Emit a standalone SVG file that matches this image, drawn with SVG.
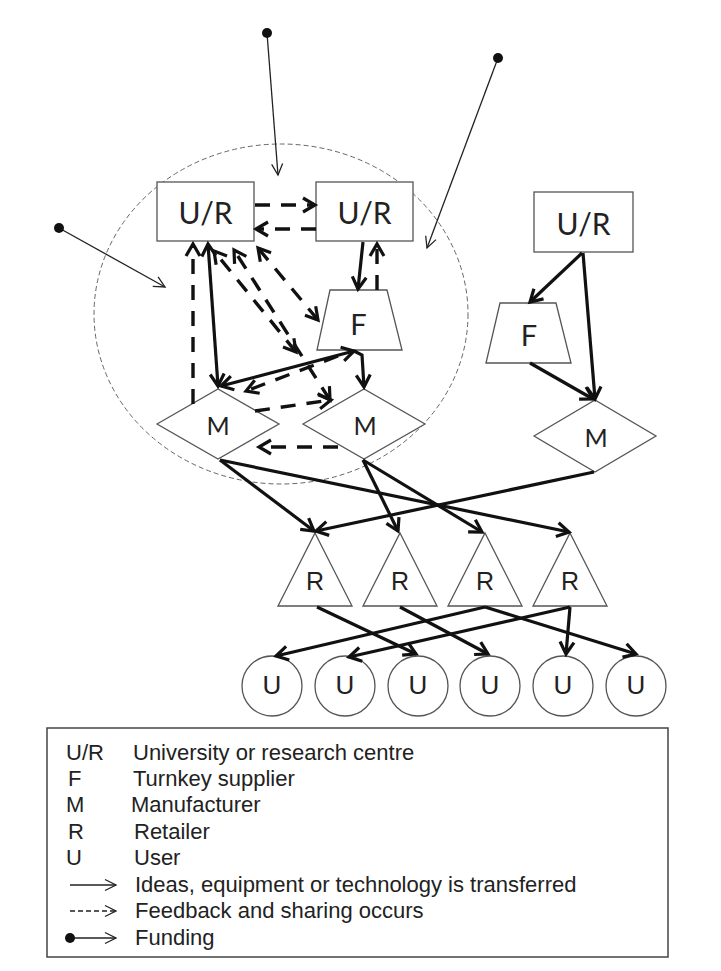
<svg xmlns="http://www.w3.org/2000/svg" width="721" height="971" viewBox="0 0 721 971">
  <style>
    .node { fill: #fff; stroke: #555; stroke-width: 1.3; }
    .lbl { font-family: Lato, "Open Sans", sans-serif; fill: #222; text-anchor: middle; dominant-baseline: central; }
    .lblA { font-family: "Liberation Sans", Arial, sans-serif; fill: #222; text-anchor: middle; dominant-baseline: central; }
    .s { fill: none; stroke: #111; stroke-width: 3.2; }
    .d { fill: none; stroke: #111; stroke-width: 3.4; stroke-dasharray: 15 11; }
    .thin { fill: none; stroke: #222; stroke-width: 1.3; }
    .ah { fill: none; stroke: #111; stroke-width: 3.2; stroke-linejoin: miter; }
    .ahThin { fill: none; stroke: #222; stroke-width: 1.3; }
    .legend { font-family: "Liberation Sans", Arial, sans-serif; font-size: 22px; fill: #222; }
  </style>
  <defs>
    <marker id="arr" viewBox="-16 -10 20 20" refX="0" refY="0" markerWidth="20" markerHeight="20" markerUnits="userSpaceOnUse" orient="auto-start-reverse">
      <path d="M-12,-7 L0,0 L-12,7" class="ah"/>
    </marker>
    <marker id="arrThin" viewBox="-14 -8 16 16" refX="0" refY="0" markerWidth="16" markerHeight="16" markerUnits="userSpaceOnUse" orient="auto">
      <path d="M-11,-5.5 L0,0 L-11,5.5" class="ahThin"/>
    </marker>
    <marker id="dot" viewBox="-6 -6 12 12" refX="0" refY="0" markerWidth="12" markerHeight="12" markerUnits="userSpaceOnUse">
      <circle r="5" fill="#111"/>
    </marker>
  </defs>

  <!-- collaboration cluster boundary -->
  <ellipse id="cluster" cx="281" cy="314" rx="187" ry="170" fill="none" stroke="#666" stroke-width="1" stroke-dasharray="5 3"/>

  <!-- nodes -->
  <g id="ur1"><rect class="node" x="157" y="182" width="97" height="59"/><text class="lbl" x="205.5" y="212" font-size="30">U/R</text></g>
  <g id="ur2"><rect class="node" x="316" y="182" width="97" height="59"/><text class="lbl" x="364.5" y="212" font-size="30">U/R</text></g>
  <g id="ur3"><rect class="node" x="534" y="192" width="99" height="60"/><text class="lbl" x="583.5" y="223" font-size="30">U/R</text></g>

  <g id="f1"><polygon class="node" points="330,290 387,290 402,350 317,350"/><text class="lbl" x="358.5" y="323" font-size="29">F</text></g>
  <g id="f2"><polygon class="node" points="500,303 556,303 571,363 486,363"/><text class="lbl" x="529" y="334" font-size="29">F</text></g>

  <g id="m1"><polygon class="node" points="157,424 218,389 279,424 218,459"/><text class="lbl" x="218" y="425" font-size="25">M</text></g>
  <g id="m2"><polygon class="node" points="303,424 364,389 425,424 364,459"/><text class="lbl" x="365" y="425" font-size="25">M</text></g>
  <g id="m3"><polygon class="node" points="534,436 595,400 656,436 595,472"/><text class="lbl" x="596" y="437" font-size="25">M</text></g>

  <g id="r1"><polygon class="node" points="315,533 352,606 278,606"/><text class="lblA" x="315" y="581" font-size="25">R</text></g>
  <g id="r2"><polygon class="node" points="400,533 437,606 363,606"/><text class="lblA" x="400" y="581" font-size="25">R</text></g>
  <g id="r3"><polygon class="node" points="485,533 522,606 448,606"/><text class="lblA" x="485" y="581" font-size="25">R</text></g>
  <g id="r4"><polygon class="node" points="570,533 607,606 533,606"/><text class="lblA" x="570" y="581" font-size="25">R</text></g>

  <g id="u1"><circle class="node" cx="272" cy="686" r="30"/><text class="lblA" x="272" y="685" font-size="26">U</text></g>
  <g id="u2"><circle class="node" cx="345" cy="686" r="30"/><text class="lblA" x="345" y="685" font-size="26">U</text></g>
  <g id="u3"><circle class="node" cx="418" cy="686" r="30"/><text class="lblA" x="418" y="685" font-size="26">U</text></g>
  <g id="u4"><circle class="node" cx="490" cy="686" r="30"/><text class="lblA" x="490" y="685" font-size="26">U</text></g>
  <g id="u5"><circle class="node" cx="563" cy="686" r="30"/><text class="lblA" x="563" y="685" font-size="26">U</text></g>
  <g id="u6"><circle class="node" cx="636" cy="686" r="30"/><text class="lblA" x="636" y="685" font-size="26">U</text></g>

  <!-- connectors -->
  <g id="connectors">
    <!-- funding -->
    <line class="thin" x1="267" y1="33" x2="278" y2="175" marker-start="url(#dot)" marker-end="url(#arrThin)"/>
    <line class="thin" x1="498" y1="58" x2="427" y2="248" marker-start="url(#dot)" marker-end="url(#arrThin)"/>
    <line class="thin" x1="59" y1="228" x2="165" y2="287" marker-start="url(#dot)" marker-end="url(#arrThin)"/>

    <!-- feedback and sharing -->
    <line class="d" x1="255" y1="205" x2="315" y2="205" marker-end="url(#arr)"/>
    <line class="d" x1="316" y1="229" x2="256" y2="229" marker-end="url(#arr)"/>
    <line class="d" x1="377" y1="290" x2="377" y2="244" marker-end="url(#arr)"/>
    <line class="d" x1="193" y1="404" x2="193" y2="244" marker-end="url(#arr)"/>
    <line class="d" x1="296" y1="352" x2="214" y2="251" marker-start="url(#arr)" marker-end="url(#arr)"/>
    <line class="d" x1="330" y1="400" x2="234" y2="250" marker-start="url(#arr)" marker-end="url(#arr)"/>
    <line class="d" x1="318" y1="320" x2="258" y2="248" marker-start="url(#arr)" marker-end="url(#arr)"/>
    <line class="d" x1="338" y1="356" x2="246" y2="391" marker-end="url(#arr)"/>
    <line class="d" x1="255" y1="411" x2="331" y2="400" marker-end="url(#arr)"/>
    <line class="d" x1="338" y1="447" x2="259" y2="447" marker-end="url(#arr)"/>

    <!-- transfer -->
    <line class="s" x1="363" y1="242" x2="358" y2="289" marker-end="url(#arr)"/>
    <line class="s" x1="208" y1="244" x2="218" y2="386" marker-start="url(#arr)" marker-end="url(#arr)"/>
    <line class="s" x1="221" y1="386" x2="354" y2="351" marker-start="url(#arr)" marker-end="url(#arr)"/>
    <polyline class="s" points="354,351 362,355 364,387" marker-end="url(#arr)"/>
    <line class="s" x1="582" y1="253" x2="530" y2="302" marker-end="url(#arr)"/>
    <line class="s" x1="583" y1="253" x2="595" y2="399" marker-end="url(#arr)"/>
    <line class="s" x1="530" y1="363" x2="593" y2="399" marker-end="url(#arr)"/>

    <line class="s" x1="220" y1="460" x2="314" y2="531" marker-end="url(#arr)"/>
    <line class="s" x1="220" y1="460" x2="569" y2="532" marker-end="url(#arr)"/>
    <line class="s" x1="363" y1="460" x2="398" y2="531" marker-end="url(#arr)"/>
    <line class="s" x1="363" y1="460" x2="482" y2="532" marker-end="url(#arr)"/>
    <line class="s" x1="594" y1="472" x2="316" y2="531" marker-end="url(#arr)"/>

    <line class="s" x1="317" y1="607" x2="416" y2="654" marker-end="url(#arr)"/>
    <line class="s" x1="400" y1="607" x2="488" y2="654" marker-end="url(#arr)"/>
    <line class="s" x1="485" y1="607" x2="276" y2="656" marker-end="url(#arr)"/>
    <line class="s" x1="485" y1="607" x2="636" y2="654" marker-end="url(#arr)"/>
    <line class="s" x1="570" y1="607" x2="349" y2="657" marker-end="url(#arr)"/>
    <line class="s" x1="570" y1="607" x2="566" y2="654" marker-end="url(#arr)"/>
  </g>

  <!-- legend -->
  <g id="legend">
    <rect x="47" y="728" width="621" height="229" fill="#fff" stroke="#444" stroke-width="1.5"/>
    <g class="legend">
      <text x="66" y="760">U/R</text><text x="133" y="760">University or research centre</text>
      <text x="68" y="786">F</text><text x="133" y="786">Turnkey supplier</text>
      <text x="66" y="812">M</text><text x="131" y="812">Manufacturer</text>
      <text x="68" y="839">R</text><text x="134" y="839">Retailer</text>
      <text x="66" y="865">U</text><text x="134" y="865">User</text>
      <text x="135" y="892">Ideas, equipment or technology is transferred</text>
      <text x="135" y="918">Feedback and sharing occurs</text>
      <text x="135" y="945">Funding</text>
    </g>
    <line class="thin" x1="70" y1="885" x2="116" y2="885" marker-end="url(#arrThin)"/>
    <line class="thin" x1="70" y1="911" x2="116" y2="911" stroke-dasharray="5 3" marker-end="url(#arrThin)"/>
    <line class="thin" x1="70" y1="938" x2="116" y2="938" marker-start="url(#dot)" marker-end="url(#arrThin)"/>
  </g>
</svg>
